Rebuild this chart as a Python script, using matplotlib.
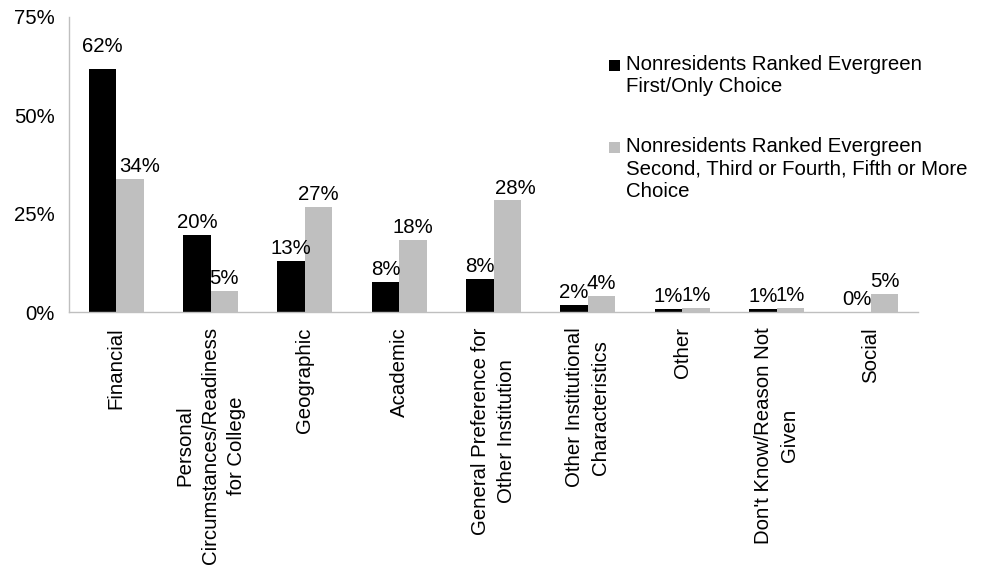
"""Reasons nonresidents chose another institution - grouped bar chart"""

import matplotlib
matplotlib.use('Agg')
import matplotlib.pyplot as plt
from matplotlib.patches import Rectangle

plt.rcParams['font.family'] = ['Liberation Sans', 'DejaVu Sans']

# Data
categories = [
    'Financial',
    'Personal\nCircumstances/Readiness\nfor College',
    'Geographic',
    'Academic',
    'General Preference for\nOther Institution',
    'Other Institutional\nCharacteristics',
    'Other',
    "Don't Know/Reason Not\nGiven",
    'Social',
]
first_choice = [61.8, 19.6, 13.0, 7.6, 8.4, 1.8, 0.8, 0.8, 0.0]
later_choice = [33.8, 5.3, 26.7, 18.3, 28.4, 4.1, 1.0, 1.0, 4.6]
series_names = [
    'Nonresidents Ranked Evergreen\nFirst/Only Choice',
    'Nonresidents Ranked Evergreen\nSecond, Third or Fourth, Fifth or More\nChoice',
]
y_ticks = [0, 25, 50, 75]

W, H = 989, 580
FS = 14.7
colors = ['#000000', '#BFBFBF']
bar_w = 0.29

fig = plt.figure(figsize=(W / 100, H / 100), dpi=100)
ax = fig.add_axes([69 / W, 1 - 312 / H, 849 / W, 295 / H])

x = list(range(len(categories)))
series = [first_choice, later_choice]
offsets = [-bar_w / 2, bar_w / 2]

# manual label nudges (points) seen in the reference
nudges = {(0, 0): (0, 7), (1, 0): (7, 0), (1, 4): (6, 0)}

for s, (vals, col, off) in enumerate(zip(series, colors, offsets)):
    xs = [i + off for i in x]
    ax.bar(xs, vals, width=bar_w, color=col, edgecolor='none')
    for i, v in enumerate(vals):
        dx, dy = nudges.get((s, i), (0, 0))
        ax.annotate(f'{round(v):.0f}%', (xs[i], v), xytext=(dx, 2 + dy),
                    textcoords='offset points', ha='center', va='bottom',
                    fontsize=FS)

ax.set_xlim(-0.5, len(categories) - 0.5)
ax.set_ylim(0, 75)
ax.set_yticks(y_ticks)
ax.set_yticklabels([f'{t}%' for t in y_ticks], fontsize=FS)
ax.set_xticks(x)
ax.set_xticklabels(categories, rotation=90, ha='center', va='top',
                   multialignment='center', fontsize=FS, linespacing=1.45)
ax.tick_params(axis='both', length=0)
ax.tick_params(axis='y', pad=10)
ax.tick_params(axis='x', pad=11)

for side in ['top', 'right']:
    ax.spines[side].set_visible(False)
for side in ['left', 'bottom']:
    ax.spines[side].set_color('#BFBFBF')
    ax.spines[side].set_linewidth(1.0)

# Legend drawn by hand to keep handles aligned with the first text line
legend_tops = [55, 137]
for name, col, top in zip(series_names, colors, legend_tops):
    fig.add_artist(Rectangle((609 / W, 1 - (top + 16) / H), 11 / W, 11 / H,
                             transform=fig.transFigure, facecolor=col,
                             edgecolor='none'))
    fig.text(626 / W, 1 - top / H, name, ha='left', va='top', fontsize=FS,
             linespacing=1.22)

fig.savefig('out.png', dpi=100, facecolor='white')
